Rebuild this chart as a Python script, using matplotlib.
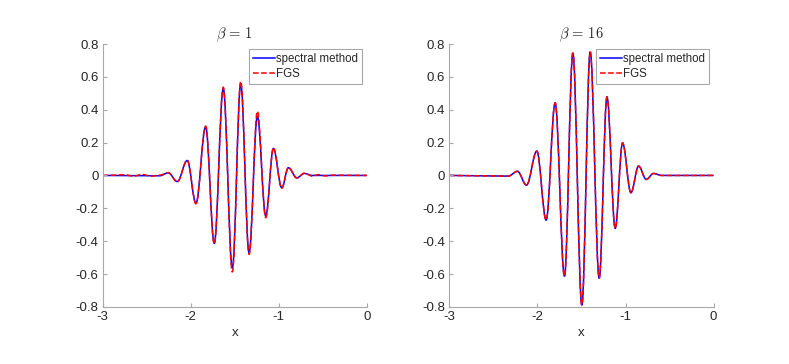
import numpy as np
import matplotlib
matplotlib.use("Agg")
import matplotlib.pyplot as plt
from matplotlib.path import Path
from matplotlib.patches import PathPatch
from matplotlib.lines import Line2D

plt.rcParams["font.family"] = ["Liberation Sans", "DejaVu Sans"]
plt.rcParams["mathtext.fontset"] = "cm"
plt.rcParams["axes.unicode_minus"] = False

# extrema of the wave packets (x, value)
x_b1 = [-3.0, -2.35, -2.255, -2.152, -2.039, -1.940, -1.830, -1.732, -1.630, -1.527,
        -1.432, -1.337, -1.243, -1.148, -1.061, -0.966, -0.891, -0.795, -0.709, -0.62, 0.0]
spec_b1 = [0.0, -0.002, 0.016, -0.037, 0.091, -0.170, 0.296, -0.413, 0.529, -0.565,
           0.557, -0.470, 0.360, -0.247, 0.164, -0.075, 0.047, -0.014, 0.012, 0.0, 0.0]

x_b1_fgs = [-3.0, -2.75, -2.65, -2.55, -2.45, -2.35, -2.255, -2.152, -2.039, -1.940, -1.830,
            -1.732, -1.630, -1.527, -1.432, -1.337, -1.243, -1.148, -1.061, -0.966, -0.891,
            -0.795, -0.709, -0.62, -0.55, -0.47, -0.40, 0.0]
fgs_b1 = [0.0, 0.004, -0.004, 0.006, -0.004, 0.002, 0.017, -0.040, 0.093, -0.172, 0.300,
          -0.418, 0.537, -0.588, 0.573, -0.480, 0.391, -0.257, 0.168, -0.078, 0.048,
          -0.016, 0.014, -0.004, 0.005, -0.003, 0.002, 0.0]

x_b16 = [-3.0, -2.33, -2.227, -2.124, -2.007, -1.901, -1.799, -1.693, -1.598, -1.496,
         -1.401, -1.299, -1.211, -1.117, -1.034, -0.939, -0.852, -0.765, -0.682, -0.59, 0.0]
spec_b16 = [0.0, -0.004, 0.025, -0.059, 0.148, -0.272, 0.442, -0.614, 0.746, -0.790,
            0.752, -0.626, 0.478, -0.322, 0.198, -0.105, 0.057, -0.024, 0.012, 0.0, 0.0]
fgs_b16 = spec_b16

x_ticks = [-3, -2, -1, 0]
y_ticks = [-0.8, -0.6, -0.4, -0.2, 0, 0.2, 0.4, 0.6, 0.8]
y_labels = ["-0.8", "-0.6", "-0.4", "-0.2", "0", "0.2", "0.4", "0.6", "0.8"]


def wave_path(xs, ys, k=0.364):
    # smooth curve through the extrema, flat tangent at each one
    verts = [(xs[0], ys[0])]
    codes = [Path.MOVETO]
    for i in range(1, len(xs)):
        dx = xs[i] - xs[i - 1]
        verts += [(xs[i - 1] + k * dx, ys[i - 1]), (xs[i] - k * dx, ys[i]), (xs[i], ys[i])]
        codes += [Path.CURVE4] * 3
    return Path(verts, codes)


fig = plt.figure(figsize=(7.89, 3.64), dpi=100)
ax1 = fig.add_axes([0.130, 0.157, 0.335, 0.722])
ax2 = fig.add_axes([0.5695, 0.157, 0.335, 0.722])

panels = [(ax1, x_b1, spec_b1, x_b1_fgs, fgs_b1, r"$\beta\,=\,1$"),
          (ax2, x_b16, spec_b16, x_b16, fgs_b16, r"$\beta\,=\,16$")]

for ax, xs, ys, xf, yf, title in panels:
    ax.add_patch(PathPatch(wave_path(xs, ys), fill=False, edgecolor="#0000ff", lw=1.1))
    ax.add_patch(PathPatch(wave_path(xf, yf), fill=False, edgecolor="#ff0000", lw=1.1,
                           linestyle="--", capstyle="butt"))
    ax.set_xlim(-3, 0)
    ax.set_ylim(-0.8, 0.8)
    ax.set_xticks(x_ticks)
    ax.set_xticklabels([str(t) for t in x_ticks])
    ax.set_yticks(y_ticks)
    ax.set_yticklabels(y_labels)
    ax.spines["top"].set_visible(False)
    ax.spines["right"].set_visible(False)
    for s in ["left", "bottom"]:
        ax.spines[s].set_color("#a8a8a8")
        ax.spines[s].set_linewidth(0.8)
    ax.tick_params(direction="in", length=3, width=0.8, color="#a8a8a8",
                   labelcolor="#262626", labelsize=9.5, pad=3)
    ax.set_xlabel("x", fontsize=9.5, color="#262626", labelpad=3)
    ax.set_title(title, fontsize=10.5, color="#262626", pad=3)
    handles = [Line2D([], [], color="#0000ff", lw=1.1),
               Line2D([], [], color="#ff0000", lw=1.1, ls="--")]
    leg = ax.legend(handles, ["spectral method", "FGS"], loc="upper right", fontsize=8.3,
                    frameon=True, fancybox=False, edgecolor="#a8a8a8", framealpha=1,
                    handlelength=1.9, handletextpad=0.1, borderpad=0.35,
                    labelspacing=0.3, borderaxespad=0.4)
    leg.get_frame().set_linewidth(0.8)
    for t in leg.get_texts():
        t.set_color("#262626")

fig.savefig("out.png", dpi=100)
